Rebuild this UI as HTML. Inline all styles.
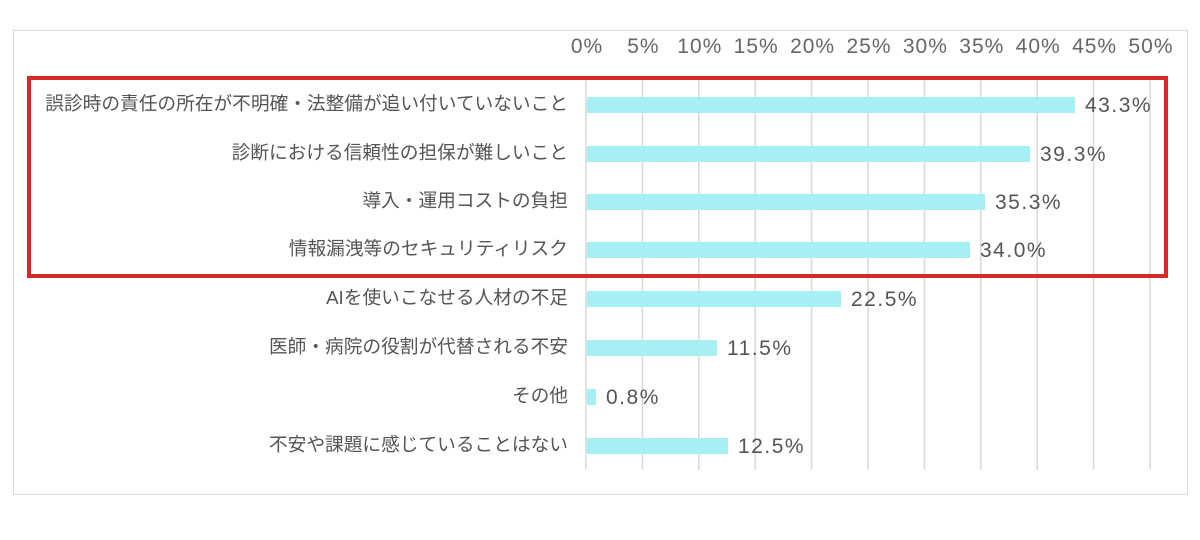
<!DOCTYPE html>
<html><head><meta charset="utf-8"><style>
body{margin:0;background:#fff;width:1200px;height:540px;overflow:hidden;font-family:"Liberation Sans","Noto Sans CJK JP",sans-serif}
</style></head><body>
<svg width="1200" height="540" xmlns="http://www.w3.org/2000/svg" style="position:absolute;left:0;top:0">
<rect x="13.5" y="30.5" width="1174" height="464" fill="#fff" stroke="#d9d9d9" stroke-width="1"/>
<g stroke="#d9d9d9" stroke-width="1.5">
<line x1="586" y1="80" x2="586" y2="470"/>
<line x1="642.4" y1="80" x2="642.4" y2="470"/>
<line x1="698.8" y1="80" x2="698.8" y2="470"/>
<line x1="755.2" y1="80" x2="755.2" y2="470"/>
<line x1="811.6" y1="80" x2="811.6" y2="470"/>
<line x1="868" y1="80" x2="868" y2="470"/>
<line x1="924.4" y1="80" x2="924.4" y2="470"/>
<line x1="980.8" y1="80" x2="980.8" y2="470"/>
<line x1="1037.2" y1="80" x2="1037.2" y2="470"/>
<line x1="1093.6" y1="80" x2="1093.6" y2="470"/>
<line x1="1150" y1="80" x2="1150" y2="470"/>
</g>
<g font-size="21" fill="#666" text-anchor="middle" letter-spacing="1">
<text x="587" y="53">0%</text><text x="643.4" y="53">5%</text><text x="699.8" y="53">10%</text><text x="756.2" y="53">15%</text><text x="812.6" y="53">20%</text><text x="869" y="53">25%</text><text x="925.4" y="53">30%</text><text x="981.8" y="53">35%</text><text x="1038.2" y="53">40%</text><text x="1094.6" y="53">45%</text><text x="1151" y="53">50%</text>
</g>
<g fill="#a6eff2">
<rect x="587" y="97" width="488" height="16"/>
<rect x="587" y="146" width="443" height="16"/>
<rect x="587" y="194" width="398" height="16"/>
<rect x="587" y="242" width="383" height="16"/>
<rect x="587" y="291" width="254" height="16"/>
<rect x="587" y="340" width="130" height="16"/>
<rect x="587" y="389" width="9" height="16"/>
<rect x="587" y="438" width="141" height="16"/>
</g>
<g font-size="21" fill="#555" letter-spacing="1.5">
<text x="1085" y="112">43.3%</text>
<text x="1040" y="161">39.3%</text>
<text x="995" y="209">35.3%</text>
<text x="980" y="257">34.0%</text>
<text x="851" y="306">22.5%</text>
<text x="727" y="355">11.5%</text>
<text x="606" y="404">0.8%</text>
<text x="738" y="453">12.5%</text>
</g>
<g font-size="18.7" fill="#555" text-anchor="end">
<text x="568" y="110">誤診時の責任の所在が不明確・法整備が追い付いていないこと</text>
<text x="568" y="159">診断における信頼性の担保が難しいこと</text>
<text x="568" y="207">導入・運用コストの負担</text>
<text x="568" y="255">情報漏洩等のセキュリティリスク</text>
<text x="568" y="304">AIを使いこなせる人材の不足</text>
<text x="568" y="353">医師・病院の役割が代替される不安</text>
<text x="568" y="402">その他</text>
<text x="568" y="451">不安や課題に感じていることはない</text>
</g>
<rect x="29" y="78" width="1137" height="198" fill="none" stroke="#d42b27" stroke-width="4"/>
</svg>
</body></html>
